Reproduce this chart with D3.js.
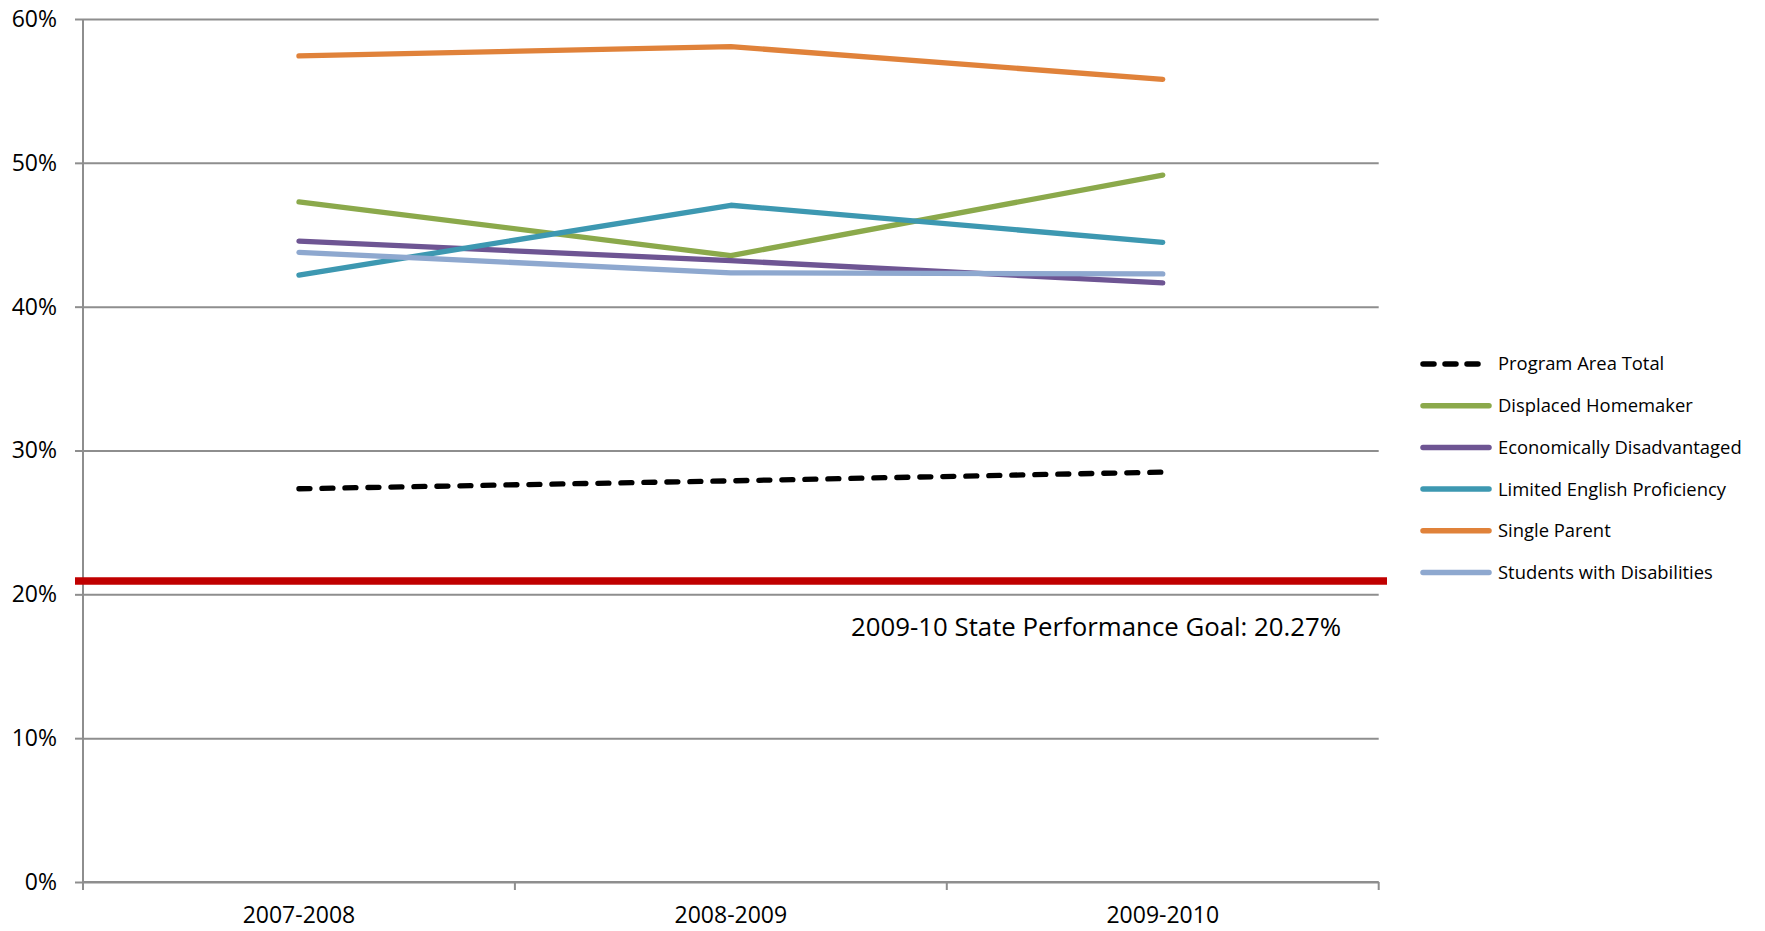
<!DOCTYPE html>
<html>
<head>
<meta charset="utf-8">
<script src="https://cdn.jsdelivr.net/npm/d3@7"></script>
<style>
  html, body { margin: 0; padding: 0; background: #fff; }
  svg { display: block; }
  text { font-family: "Open Sans", sans-serif; fill: #000; }
</style>
</head>
<body>
<svg id="chart" width="1765" height="931"></svg>
<script>
// ---- data ----
const categories = ["2007-2008", "2008-2009", "2009-2010"];
const seriesNames = [
  "Program Area Total",
  "Displaced Homemaker",
  "Economically Disadvantaged",
  "Limited English Proficiency",
  "Single Parent",
  "Students with Disabilities"
];
const programAreaTotal = [0.2734, 0.2789, 0.2850];
const displacedHomemaker = [0.4728, 0.4355, 0.4915];
const economicallyDisadvantaged = [0.4455, 0.4320, 0.4165];
const limitedEnglishProficiency = [0.4220, 0.4705, 0.4447];
const singleParent = [0.5743, 0.5808, 0.5580];
const studentsWithDisabilities = [0.4378, 0.4235, 0.4228];
const yTicks = [0, 0.1, 0.2, 0.3, 0.4, 0.5, 0.6];
const goalValue = 0.2093;
const goalLabel = "2009-10 State Performance Goal: 20.27%";

const seriesValues = [programAreaTotal, displacedHomemaker, economicallyDisadvantaged,
  limitedEnglishProficiency, singleParent, studentsWithDisabilities];
const seriesColors = ["#000000", "#8BA94B", "#6E5593", "#3D98B1", "#E0823A", "#8EA8CF"];
const seriesDash = ["11,12", null, null, null, null, null];

(function () {
const FONT = '"Open Sans", sans-serif';
const svg = d3.select("#chart");
const pLeft = 83, pRight = 1378.7, pTop = 19, pBottom = 882;

const x = d3.scaleBand().domain(categories).range([pLeft, pRight]).padding(0);
const y = d3.scaleLinear().domain([0, 0.6]).range([pBottom, pTop]);
const cx = c => x(c) + x.bandwidth() / 2;

// gridlines
const grid = svg.append("g")
  .attr("transform", `translate(${pLeft},0)`)
  .call(d3.axisLeft(y).tickValues(yTicks).tickSize(-(pRight - pLeft)).tickFormat(""));
grid.select(".domain").remove();
grid.selectAll("line").attr("stroke", "#8E8E8E").attr("stroke-width", 2);

// y axis
const yAxis = svg.append("g")
  .attr("transform", `translate(${pLeft},0)`)
  .call(d3.axisLeft(y).tickValues(yTicks).tickSize(8).tickPadding(18)
    .tickFormat(d3.format(".0%")));
yAxis.select(".domain").remove();
yAxis.selectAll("line").attr("stroke", "#8E8E8E").attr("stroke-width", 2);
yAxis.selectAll("text").attr("font-size", "23px")
  .style("font-family", FONT).attr("fill", "#000");
svg.append("line")
  .attr("x1", pLeft).attr("x2", pLeft).attr("y1", pTop).attr("y2", pBottom + 8)
  .attr("stroke", "#8E8E8E").attr("stroke-width", 2);

// x axis
const xAxis = svg.append("g")
  .attr("transform", `translate(0,${pBottom})`)
  .call(d3.axisBottom(x).tickSize(0).tickPadding(25));
xAxis.select(".domain").remove();
xAxis.selectAll("text").attr("font-size", "23px")
  .style("font-family", FONT).attr("fill", "#000");
svg.append("line")
  .attr("x1", pLeft).attr("x2", pRight).attr("y1", pBottom).attr("y2", pBottom)
  .attr("stroke", "#8E8E8E").attr("stroke-width", 2);
const boundaries = categories.map(c => x(c)).concat([x(categories[categories.length - 1]) + x.bandwidth()]);
svg.selectAll(".xtick").data(boundaries).enter().append("line")
  .attr("x1", d => d).attr("x2", d => d).attr("y1", pBottom).attr("y2", pBottom + 8)
  .attr("stroke", "#8E8E8E").attr("stroke-width", 2);

// series lines
const line = d3.line().x((d, i) => cx(categories[i])).y(d => y(d));
seriesValues.forEach((vals, si) => {
  svg.append("path")
    .datum(vals)
    .attr("d", line)
    .attr("fill", "none")
    .attr("stroke", seriesColors[si])
    .attr("stroke-width", 5.3)
    .attr("stroke-linecap", "round")
    .attr("stroke-linejoin", "round")
    .attr("stroke-dasharray", seriesDash[si]);
});

// goal line
svg.append("line")
  .attr("x1", 75).attr("x2", 1387)
  .attr("y1", y(goalValue)).attr("y2", y(goalValue))
  .attr("stroke", "#C00000").attr("stroke-width", 7.5);
svg.append("text")
  .attr("x", 851).attr("y", 636)
  .attr("font-size", "25.8px")
  .style("font-family", FONT)
  .text(goalLabel);

// legend
const legend = svg.append("g");
seriesNames.forEach((name, i) => {
  const yy = 364 + i * 41.7;
  legend.append("line")
    .attr("x1", 1423).attr("x2", 1489).attr("y1", yy).attr("y2", yy)
    .attr("stroke", seriesColors[i]).attr("stroke-width", 5.5)
    .attr("stroke-linecap", "round")
    .attr("stroke-dasharray", i === 0 ? "11,11" : null);
  legend.append("text")
    .attr("x", 1498).attr("y", yy).attr("dy", "0.35em")
    .attr("font-size", "18.4px")
    .style("font-family", FONT)
    .text(name);
});
})();
</script>
</body>
</html>
